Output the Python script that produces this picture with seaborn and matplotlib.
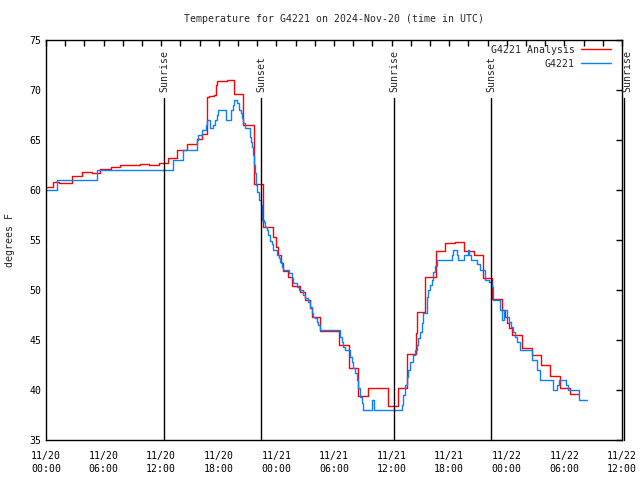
import matplotlib
matplotlib.use("Agg")
import matplotlib.pyplot as plt
import matplotlib.dates as mdates
import numpy as np
import pandas as pd
import seaborn as sns

# ---- data (hours since 2024-11-20 00:00 UTC) ----
analysis_hours = [0.0, 0.70, 1.35, 2.74, 3.78, 4.76, 5.63, 6.77, 7.71, 9.79, 10.76, 11.77,
                  12.74, 13.68, 14.72, 15.76, 16.30, 16.74, 17.0, 17.5, 17.7, 17.85, 18.82,
                  19.58, 20.55, 21.70, 22.57, 23.68, 23.96, 24.20, 24.45, 24.66, 25.24, 25.60,
                  26.46, 26.98, 27.50, 27.68, 28.54, 30.52, 31.60, 32.53, 33.57, 35.60, 36.64,
                  37.64, 38.50, 38.60, 39.48, 40.63, 41.56, 42.60, 43.57, 44.58, 45.55, 46.49,
                  47.53, 47.80, 48.00, 48.20, 48.57, 49.55, 50.60, 51.56, 52.50, 53.54, 54.58,
                  55.52]
analysis_temp = [60.3, 60.8, 60.7, 61.4, 61.8, 61.7, 62.1, 62.3, 62.5, 62.6, 62.5, 62.7,
                 63.2, 64.0, 64.6, 65.1, 65.6, 69.3, 69.4, 69.5, 70.5, 70.9, 71.0,
                 69.6, 66.5, 60.6, 56.3, 55.3, 54.3, 53.5, 52.7, 51.9, 51.3, 50.4,
                 49.8, 49.0, 48.2, 47.3, 45.9, 44.5, 42.2, 39.4, 40.2, 38.4, 40.2,
                 43.6, 45.7, 47.8, 51.3, 53.9, 54.7, 54.8, 53.9, 53.5, 51.2, 49.1,
                 48.0, 47.3, 46.7, 46.2, 45.5, 44.2, 43.5, 42.5, 41.4, 40.2, 39.6,
                 39.6]

obs_hours = [0.0, 1.18, 5.28, 13.26, 14.30, 15.70, 15.87, 16.22, 16.63, 16.80, 17.08, 17.43,
             17.60, 17.78, 17.95, 18.75, 19.27, 19.44, 19.58, 19.93, 20.14, 20.28, 20.45,
             20.55, 20.73, 21.25, 21.32, 21.43, 21.53, 21.67, 21.77, 21.88, 22.01, 22.22,
             22.36, 22.47, 22.53, 22.71, 22.81, 22.99, 23.16, 23.33, 23.51, 23.68, 24.10,
             24.27, 24.38, 24.55, 24.72, 25.34, 25.59, 25.76, 26.11, 26.39, 26.80, 26.98,
             27.32, 27.50, 27.68, 27.85, 28.02, 28.20, 28.37, 28.54, 30.63, 30.80, 30.97,
             31.15, 31.67, 31.84, 32.01, 32.19, 32.36, 32.53, 32.71, 32.88, 32.99, 33.99,
             34.14, 37.05, 37.22, 37.40, 37.57, 37.74, 37.92, 38.26, 38.44, 38.61, 38.78,
             38.96, 39.14, 39.30, 39.66, 39.82, 40.00, 40.18, 40.34, 40.52, 40.76, 42.26,
             42.36, 42.78, 42.95, 43.57, 43.93, 44.10, 44.27, 44.93, 45.20, 45.73, 46.18,
             46.42, 46.53, 47.29, 47.47, 47.71, 48.02, 48.23, 48.44, 48.65, 48.85, 49.06,
             49.38, 50.60, 51.11, 51.46, 52.81, 53.26, 53.44, 54.17, 54.34, 55.52, 56.39]
obs_temp = [60.0, 61.0, 62.0, 63.0, 64.0, 65.0, 65.5, 66.0, 66.5, 67.0, 66.2, 66.5,
            67.0, 67.5, 68.0, 67.0, 68.0, 68.5, 69.0, 68.7, 68.0, 67.7, 67.2,
            66.7, 66.2, 65.3, 64.8, 64.3, 63.5, 62.5, 61.7, 60.5, 59.8, 59.0,
            58.5, 58.0, 57.0, 56.8, 56.3, 56.0, 55.5, 54.9, 54.6, 54.0, 53.5,
            53.2, 52.8, 52.3, 52.0, 51.7, 51.2, 50.7, 50.3, 50.0, 49.5, 49.2,
            48.8, 48.3, 47.7, 47.3, 47.2, 46.8, 46.5, 46.0, 45.3, 44.8, 44.3,
            44.0, 43.3, 42.8, 42.2, 41.7, 41.0, 40.2, 39.3, 38.7, 38.0, 39.0,
            38.0, 38.5, 39.5, 40.5, 41.3, 42.0, 42.8, 43.5, 44.0, 44.5, 45.2,
            45.8, 46.7, 47.7, 49.3, 50.0, 50.5, 51.0, 51.8, 52.4, 53.0, 53.5,
            54.0, 53.5, 53.0, 53.5, 54.0, 53.5, 53.0, 52.6, 52.0, 51.0, 50.8,
            50.3, 49.0, 48.0, 47.0, 48.0, 47.3, 46.8, 46.3, 45.8, 45.3, 44.8,
            44.0, 43.0, 42.0, 41.0, 40.0, 40.5, 41.0, 40.5, 40.0, 39.0, 39.0]

sun_labels = ["Sunrise", "Sunset", "Sunrise", "Sunset", "Sunrise"]
sun_hours = [12.28, 22.4, 36.25, 46.35, 60.2]

title = "Temperature for G4221 on 2024-Nov-20 (time in UTC)"
series_names = ["G4221 Analysis", "G4221"]
ylabel = "degrees F"

# ---- plot ----
sns.set_style("white")
plt.rcParams["font.family"] = ["DejaVu Sans Mono"]
FS = 7.1

base = pd.Timestamp("2024-11-20 00:00")
def to_time(h):
    return base + pd.to_timedelta(np.asarray(h), unit="h")

fig = plt.figure(figsize=(6.4, 4.8), dpi=100)
ax = fig.add_axes([46 / 640, 40 / 480, 576 / 640, 400 / 480])

sns.lineplot(x=to_time(analysis_hours), y=analysis_temp, ax=ax, color="#ff0000",
             drawstyle="steps-post", estimator=None, lw=1.0, label=series_names[0])
sns.lineplot(x=to_time(obs_hours), y=obs_temp, ax=ax, color="#0a80ff",
             drawstyle="steps-post", estimator=None, lw=1.0, label=series_names[1])

for i, (lab, h) in enumerate(zip(sun_labels, sun_hours)):
    t = to_time([h])[0]
    ax.axvline(t, ymin=0, ymax=0.855, color="black", lw=1.0, clip_on=False)
    tt = to_time([h + (0.35 if i == len(sun_hours) - 1 else 0.05)])[0]
    ax.text(tt, 0.87, lab, transform=ax.get_xaxis_transform(), rotation=90,
            ha="center", va="bottom", fontsize=FS, clip_on=False)

ax.set_xlim(base, base + pd.Timedelta(hours=60))
ax.set_ylim(35, 75)
ax.set_yticks(np.arange(35, 76, 5))
ax.xaxis.set_major_locator(mdates.HourLocator(byhour=[0, 6, 12, 18]))
ax.xaxis.set_minor_locator(mdates.HourLocator(interval=2))
ax.xaxis.set_major_formatter(mdates.DateFormatter("%m/%d\n%H:%M"))
ax.tick_params(axis="both", which="both", direction="in", length=4, width=1,
               top=True, right=True, labelsize=FS, colors="black")
ax.tick_params(axis="x", which="major", pad=8)
for lbl in ax.get_xticklabels():
    lbl.set_linespacing(1.3)
for s in ax.spines.values():
    s.set_color("black")
    s.set_linewidth(1.0)

ax.set_xlabel("")
ax.set_ylabel(ylabel, fontsize=FS, labelpad=10)
ax.set_title(title, fontsize=FS, pad=13)

leg = ax.legend(loc="upper right", bbox_to_anchor=(0.99, 1.0), frameon=False,
                markerfirst=False, fontsize=FS, handlelength=3.1, handletextpad=0.6,
                labelspacing=0.4, borderaxespad=0.3, borderpad=0.2)

fig.savefig("out.png", dpi=100)
